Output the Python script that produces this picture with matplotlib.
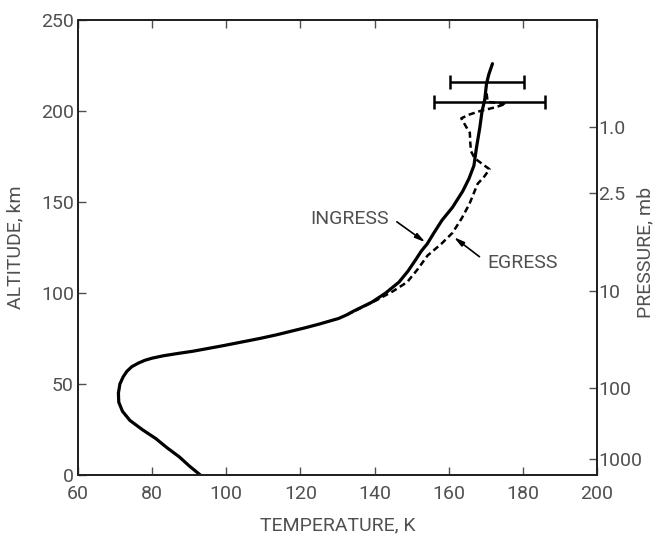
import matplotlib
matplotlib.use("Agg")
import matplotlib.pyplot as plt

# ingress profile (solid)
ingress_alt = [0, 5, 10, 15, 20, 25, 30, 35, 40, 45, 50, 54, 57, 59.5, 61.5, 63,
               64.2, 65.5, 66.8, 68, 69.5, 71, 73, 75, 77, 79, 81, 83, 86, 88, 90,
               95, 100, 106, 112, 118, 123, 127, 133, 140, 147, 156, 163, 170, 180,
               191, 200, 206, 215, 220, 226]
ingress_temp = [93, 90, 87.3, 84, 81, 77.3, 74, 72, 71, 70.9, 71.3, 72.2, 73.2, 74.5,
                76.3, 78, 80, 83, 87, 91, 95, 99, 104, 109, 113.5, 117.5, 121.5,
                125.2, 130.3, 132.5, 134.3, 139.3, 143, 146.6, 149, 151, 152.6, 154.2,
                156, 158.2, 161, 163.8, 165.5, 166.8, 167.5, 168.4, 169, 169.7, 170.2,
                170.8, 171.8]

# egress profile (dashed)
egress_alt = [88, 92, 96, 101, 106, 113, 120.6, 127, 133, 141, 149, 155, 160, 164,
              168, 171, 174, 178, 183, 188, 192, 196, 198, 200, 202, 204, 205, 210]
egress_temp = [132.5, 136.5, 140.5, 145, 148.8, 151.6, 154.3, 158, 161, 163.5, 165.6,
               166.8, 167.8, 169.6, 171, 169, 167, 166, 165.8, 165.7, 164.5, 163.4,
               165.5, 168.5, 172.5, 175.5, 170.5, 170.2]

# error bars
err_alt = [215.7, 205]
err_temp = [170.3, 171]
err_half = [10, 15]

# pressure scale on right axis
pressure_alt = [191, 155, 101, 48, 9]
pressure_labels = ["1.0", "2.5", "10", "100", "1000"]

txt = "#505050"
plt.rcParams["font.family"] = ["Roboto", "DejaVu Sans"]
plt.rcParams["font.weight"] = "normal"
plt.rcParams["axes.labelweight"] = "normal"

fig = plt.figure(figsize=(6.65, 5.38), dpi=100)
ax = fig.add_axes([78 / 665, 1 - 475 / 538, (597 - 78) / 665, (475 - 20) / 538])

ax.plot(ingress_temp, ingress_alt, color="black", lw=2.3, solid_capstyle="round")
ax.plot(egress_temp, egress_alt, color="black", lw=1.8, linestyle=(0, (2.5, 1.5)))
ax.errorbar(err_temp, err_alt, xerr=err_half, fmt="none", ecolor="black",
            elinewidth=1.8, capsize=5, capthick=1.8)

ax.set_xlim(60, 200)
ax.set_ylim(0, 250)
ax.set_xticks(range(60, 201, 20))
ax.set_yticks(range(0, 251, 50))
ax.tick_params(direction="in", length=6, width=1, colors=txt, labelsize=14,
               top=True, labeltop=False)
ax.tick_params(axis="x", pad=7)
ax.tick_params(axis="y", pad=3)
for s in ax.spines.values():
    s.set_linewidth(1.4)
    s.set_color("#222222")

ax.set_xlabel("TEMPERATURE, K", fontsize=14, color=txt, labelpad=10)
ax.set_ylabel("ALTITUDE, km", fontsize=14, color=txt, labelpad=12)

ax2 = ax.twinx()
ax2.set_ylim(0, 250)
ax2.set_yticks(pressure_alt)
ax2.set_yticklabels(pressure_labels)
ax2.tick_params(direction="in", length=6, width=1, colors=txt, labelsize=14, pad=1)
for s in ax2.spines.values():
    s.set_linewidth(1.4)
    s.set_color("#222222")
fig.text(645 / 665, 0.53, "PRESSURE, mb", fontsize=14, color=txt,
         rotation=90, ha="center", va="center")

# labels with arrows
ax.text(143.8, 140.4, "INGRESS", fontsize=14, color=txt, ha="right", va="center")
ax.annotate("", xy=(154.3, 127), xytext=(145.4, 140),
            arrowprops=dict(arrowstyle="-|>,head_length=0.6,head_width=0.15",
                            color="black", lw=1.2))
ax.text(170.5, 116.7, "EGRESS", fontsize=14, color=txt, ha="left", va="center")
ax.annotate("", xy=(160.8, 131.6), xytext=(168.9, 119),
            arrowprops=dict(arrowstyle="-|>,head_length=0.6,head_width=0.15",
                            color="black", lw=1.2))

fig.savefig("out.png", dpi=100)
